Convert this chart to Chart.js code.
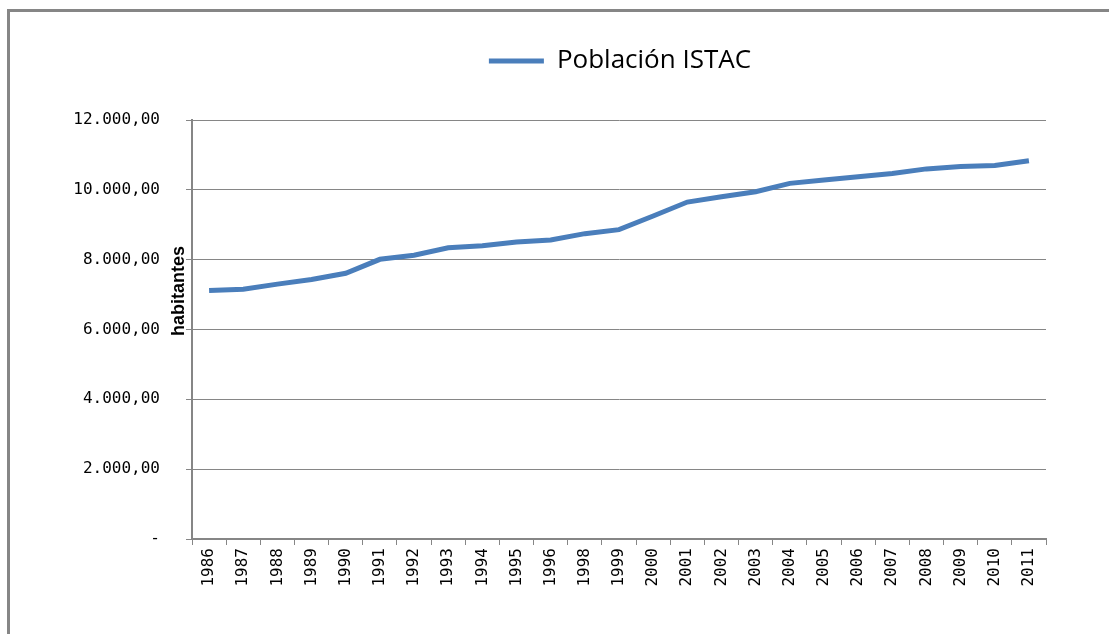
<!DOCTYPE html>
<html>
<head>
<meta charset="utf-8">
<title>Población ISTAC</title>
<script src="https://cdn.jsdelivr.net/npm/chart.js@4/dist/chart.umd.min.js"></script>
<style>
  html, body { margin: 0; padding: 0; background: #fff; overflow: hidden; }
  #wrap { width: 1109px; height: 634px; }
</style>
</head>
<body>
<div id="wrap"><canvas id="popChart" width="1109" height="634"></canvas></div>
<script>
// Population per year (1997 is missing in the source series)
const years = ['1986', '1987', '1988', '1989', '1990', '1991', '1992', '1993', '1994', '1995', '1996',
  '1998', '1999', '2000', '2001', '2002', '2003', '2004', '2005', '2006', '2007', '2008', '2009', '2010', '2011'];
const poblacion = [7120, 7150, 7300, 7430, 7610, 8010, 8125, 8340, 8400, 8506, 8563,
  8745, 8860, 9250, 9650, 9800, 9945, 10185, 10280, 10375, 10470, 10600, 10665, 10695, 10835];
const yTicks = [0, 2000, 4000, 6000, 8000, 10000, 12000];

const lineBlue = '#4a7ebb';
const axisGrey = '#868686';

// 12000 -> "12.000,00", 0 -> "-"
function fmtEs(v) {
  if (v === 0) return '-';
  const s = Math.round(v).toString().replace(/\B(?=(\d{3})+(?!\d))/g, '.');
  return s + ',00';
}

// grey frame of the chart box (only left and top edges are in view)
const frame = {
  id: 'frame',
  beforeDraw(chart) {
    const ctx = chart.ctx;
    ctx.save();
    ctx.strokeStyle = axisGrey;
    ctx.lineWidth = 3;
    ctx.beginPath();
    ctx.moveTo(8.5, 700);
    ctx.lineTo(8.5, 10.5);
    ctx.lineTo(1200, 10.5);
    ctx.stroke();
    ctx.restore();
  }
};

// vertical "habitantes" title sitting right next to the axis
const yTitle = {
  id: 'yTitle',
  afterDraw(chart) {
    const ctx = chart.ctx;
    ctx.save();
    ctx.translate(179, 291);
    ctx.rotate(-Math.PI / 2);
    ctx.font = 'bold 18px "Liberation Sans", Arial, sans-serif';
    ctx.fillStyle = '#000';
    ctx.textAlign = 'center';
    ctx.textBaseline = 'middle';
    ctx.fillText('habitantes', 0, 0);
    ctx.restore();
  }
};

// fixed legend band height, and legend moved right as in the original
const legendFit = {
  id: 'legendFit',
  beforeInit(chart) {
    const origFit = chart.legend.fit;
    chart.legend.fit = function () {
      origFit.bind(chart.legend)();
      this.height = 108;
    };
  },
  afterLayout(chart) {
    const lg = chart.legend;
    const shift = 620 - (lg.left + lg.right) / 2;
    lg.left += shift;
    lg.right += shift;
  }
};

new Chart(document.getElementById('popChart'), {
  type: 'line',
  data: {
    labels: years,
    datasets: [{
      label: 'Población ISTAC',
      data: poblacion,
      borderColor: lineBlue,
      backgroundColor: lineBlue,
      borderWidth: 5,
      pointRadius: 0,
      tension: 0,
    }]
  },
  plugins: [frame, yTitle, legendFit],
  options: {
    responsive: false,
    animation: false,
    layout: { padding: { left: 10, right: 63, top: 12, bottom: 0 } },
    plugins: {
      tooltip: { enabled: false },
      legend: {
        position: 'top',
        labels: {
          color: '#000',
          font: { family: '"Open Sans", sans-serif', size: 26 },
          boxWidth: 55,
          boxHeight: 5,
          padding: 36,
          generateLabels(chart) {
            const items = Chart.defaults.plugins.legend.labels.generateLabels(chart);
            items.forEach(it => { it.lineWidth = 0; it.fillStyle = lineBlue; });
            return items;
          }
        }
      }
    },
    scales: {
      x: {
        offset: true,
        afterFit(scale) { scale.height = 95; },
        border: { color: axisGrey, width: 2 },
        grid: { offset: true, drawOnChartArea: false, drawTicks: true, tickLength: 6, color: axisGrey },
        ticks: {
          color: '#000',
          font: { family: '"DejaVu Sans Mono", monospace', size: 16 },
          minRotation: 90,
          maxRotation: 90,
          autoSkip: false,
          padding: 3
        }
      },
      y: {
        min: 0,
        max: 12000,
        afterFit(scale) { scale.width = 182; },
        afterBuildTicks(scale) { scale.ticks = yTicks.map(v => ({ value: v })); },
        border: { color: axisGrey, width: 2 },
        grid: { color: axisGrey, lineWidth: 1, tickLength: 6 },
        ticks: {
          color: '#000',
          font: { family: '"DejaVu Sans Mono", monospace', size: 16 },
          padding: 26,
          callback: v => fmtEs(v)
        }
      }
    }
  }
});
</script>
</body>
</html>
